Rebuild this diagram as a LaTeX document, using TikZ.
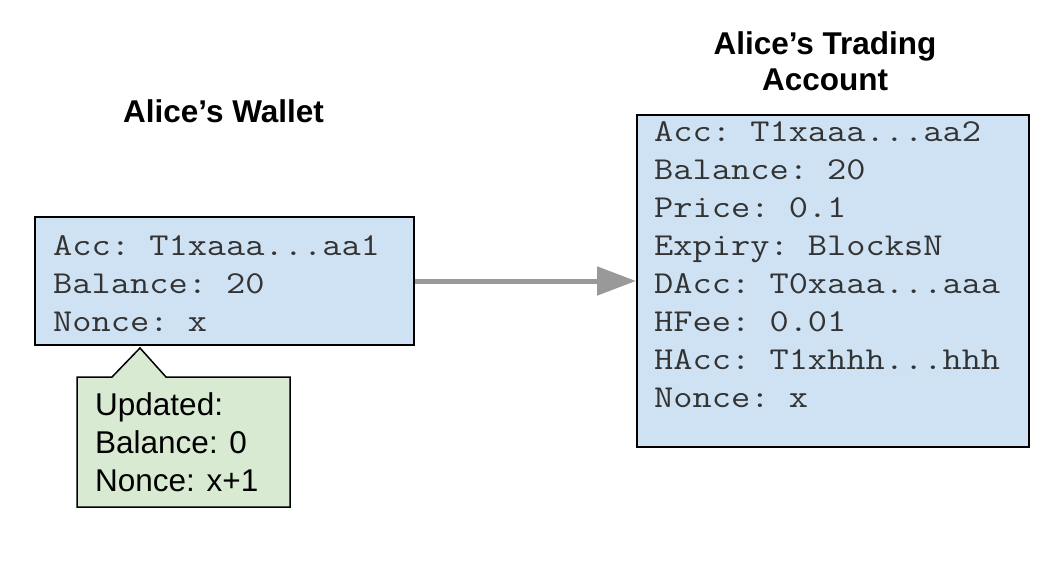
\documentclass[tikz,border=0pt]{standalone}
\usepackage{fontspec}
\setmainfont{Liberation Sans}
\setmonofont{Latin Modern Mono}[FakeStretch=1.17]
\usetikzlibrary{arrows.meta}
\definecolor{boxblue}{HTML}{CFE2F3}
\definecolor{boxgreen}{HTML}{D9EAD3}
\definecolor{arrowgray}{HTML}{999999}
\definecolor{txt}{HTML}{333333}
\begin{document}
\begin{tikzpicture}[x=1pt,y=-1pt,
  acct/.style={draw=black, line width=2pt, fill=boxblue, inner sep=0pt, anchor=north west},
  mono/.style={font=\fontsize{31.9}{38}\selectfont\ttfamily, text=txt, align=left, anchor=base west, inner sep=0pt},
  titletext/.style={font=\fontsize{31.5}{36}\selectfont\bfseries, align=center, anchor=base, inner sep=0pt},
  notetext/.style={font=\fontsize{31.5}{38}\selectfont, align=left, anchor=base west, inner sep=0pt},
  flow/.style={draw=arrowgray, line width=5pt, -{Triangle[length=39pt,width=28pt]}}
]
\path[use as bounding box, fill=white] (0,0) rectangle (1062,562);

% titles (base anchor = baseline of last line)
\node[titletext] (wtitle) at (223.5,122) {Alice’s Wallet};
\node[titletext] (ttitle) at (825,90) {Alice’s Trading\\Account};

% boxes
\node[acct, minimum width=379pt, minimum height=128pt] (wallet) at (34,216) {};
\node[acct, minimum width=392pt, minimum height=332pt] (account) at (636,114) {};

\node[mono] (wtext) at (53,331) {Acc: T1xaaa...aa1\\Balance: 20\\Nonce: x};
\node[mono] (atext) at (654,407) {Acc: T1xaaa...aa2\\Balance: 20\\Price: 0.1\\Expiry: BlocksN\\DAcc: T0xaaa...aaa\\HFee: 0.01\\HAcc: T1xhhh...hhh\\Nonce: x};

% arrow
\draw[flow] (wallet.east) -- (account.west);

% callout
\coordinate (tip) at (140,348);
\draw[line width=1.5pt, fill=boxgreen] (77,377) -- (112,377) -- (tip) -- (166,377) -- (290,377) -- (290,507) -- (77,507) -- cycle;
\node[notetext] (note) at (95,491) {Updated:\\Balance: 0\\Nonce: x+1};
\end{tikzpicture}
\end{document}
